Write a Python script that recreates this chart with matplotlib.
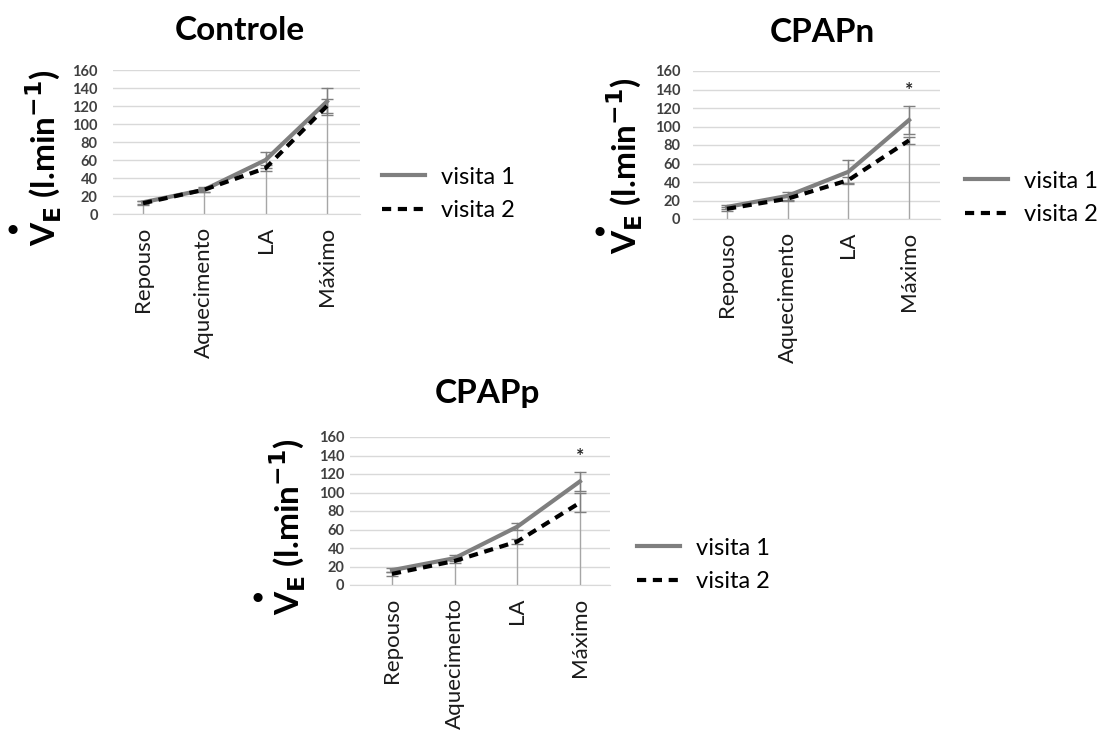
import matplotlib
matplotlib.use('Agg')
import matplotlib.pyplot as plt

plt.rcParams['font.family'] = ['Lato', 'DejaVu Sans']

etapas = ['Repouso', 'Aquecimento', 'LA', 'Máximo']
yticks = [0, 20, 40, 60, 80, 100, 120, 140, 160]

# Controle
ctrl_v1 = [13, 27, 60, 125]
ctrl_v2 = [12, 27, 51, 120]
ctrl_v1_err = [2, 3, 9, 15]
ctrl_v2_err = [2, 2, 3, 8]
# CPAPn
cpapn_v1 = [13, 25, 51, 107]
cpapn_v2 = [11, 22, 42, 85]
cpapn_v1_err = [2, 4, 13, 15]
cpapn_v2_err = [2, 2, 3, 4]
# CPAPp
cpapp_v1 = [16, 29, 63, 112]
cpapp_v2 = [12, 26, 47, 89]
cpapp_v1_err = [2, 3, 4, 10]
cpapp_v2_err = [2, 2, 3, 10]

signif = [False, True, True]

W, H = 1109, 755
fig = plt.figure(figsize=(W / 100, H / 100), dpi=100)


def px_axes(x0, x1, ytop, ybot):
    return fig.add_axes([x0 / W, 1 - ybot / H, (x1 - x0) / W, (ybot - ytop) / H])


def painel(box, xlim, pad, titulo, tpos, lab, dot, leg, v1, v2, e1, e2, estrela):
    ax = px_axes(*box)
    x = range(len(etapas))
    # drop lines
    for i in x:
        top = max(v1[i] + e1[i], v2[i] + e2[i])
        ax.plot([i, i], [0, top], color='#a6a6a6', lw=1, zorder=1)
    ax.errorbar(x, v1, yerr=e1, fmt='none', ecolor='#7f7f7f', elinewidth=1,
                capsize=4, capthick=1, zorder=2)
    ax.errorbar(x, v2, yerr=e2, fmt='none', ecolor='#7f7f7f', elinewidth=1,
                capsize=4, capthick=1, zorder=2)
    l1, = ax.plot(x, v1, color='#7f7f7f', lw=3, zorder=3)
    l2, = ax.plot(x, v2, color='black', lw=3, ls=(0, (2.2, 1.6)), zorder=4)
    if estrela:
        ax.text(3, v1[3] + e1[3] + 8, '*', ha='center', va='bottom',
                fontsize=14, fontweight='bold', color='#262626')
    ax.set_ylim(0, 160)
    ax.set_xlim(*xlim)
    ax.set_yticks(yticks)
    ax.set_xticks(list(x))
    ax.set_xticklabels(etapas, rotation=90, fontsize=16, color='#1a1a1a')
    ax.set_yticklabels([str(t) for t in yticks], fontsize=10.5, fontweight='bold',
                       color='#404040')
    ax.tick_params(axis='both', length=0)
    ax.tick_params(axis='y', pad=pad)
    ax.tick_params(axis='x', pad=9)
    ax.grid(axis='y', color='#d9d9d9', lw=1)
    ax.set_axisbelow(True)
    for s in ['top', 'right', 'left']:
        ax.spines[s].set_visible(False)
    ax.spines['bottom'].set_color('#d9d9d9')
    fig.text(tpos[0] / W, 1 - tpos[1] / H, titulo, ha='center', va='center',
             fontsize=24, fontweight='bold')
    fig.text(lab[0] / W, 1 - lab[1] / H, r'V$_\mathbf{E}$ (l.min$^\mathbf{-1}$)',
             rotation=90, ha='center', va='center', fontsize=24, fontweight='bold')
    fig.text(dot[0] / W, 1 - dot[1] / H, '•', ha='center', va='center',
             fontsize=15, fontweight='bold')
    fig.legend([l1, l2], ['visita 1', 'visita 2'], loc='center left',
               bbox_to_anchor=(leg[0] / W, 1 - leg[1] / H), frameon=False,
               fontsize=17, handlelength=1.8, handletextpad=0.7, labelspacing=0.55,
               borderpad=0, borderaxespad=0)


painel((113, 360, 70, 214), (-0.49, 3.54), 11, 'Controle', (240, 30), (44, 158),
       (13, 230), (382, 194), ctrl_v1, ctrl_v2, ctrl_v1_err, ctrl_v2_err, signif[0])
painel((693, 940, 71, 219), (-0.56, 3.51), 9, 'CPAPn', (822, 33), (625, 166),
       (600, 232), (965, 198), cpapn_v1, cpapn_v2, cpapn_v1_err, cpapn_v2_err, signif[1])
painel((350, 610, 437, 585), (-0.67, 3.48), 4, 'CPAPp', (487, 393), (288, 527),
       (258, 598), (637, 565), cpapp_v1, cpapp_v2, cpapp_v1_err, cpapp_v2_err, signif[2])

fig.savefig('out.png', dpi=100)
